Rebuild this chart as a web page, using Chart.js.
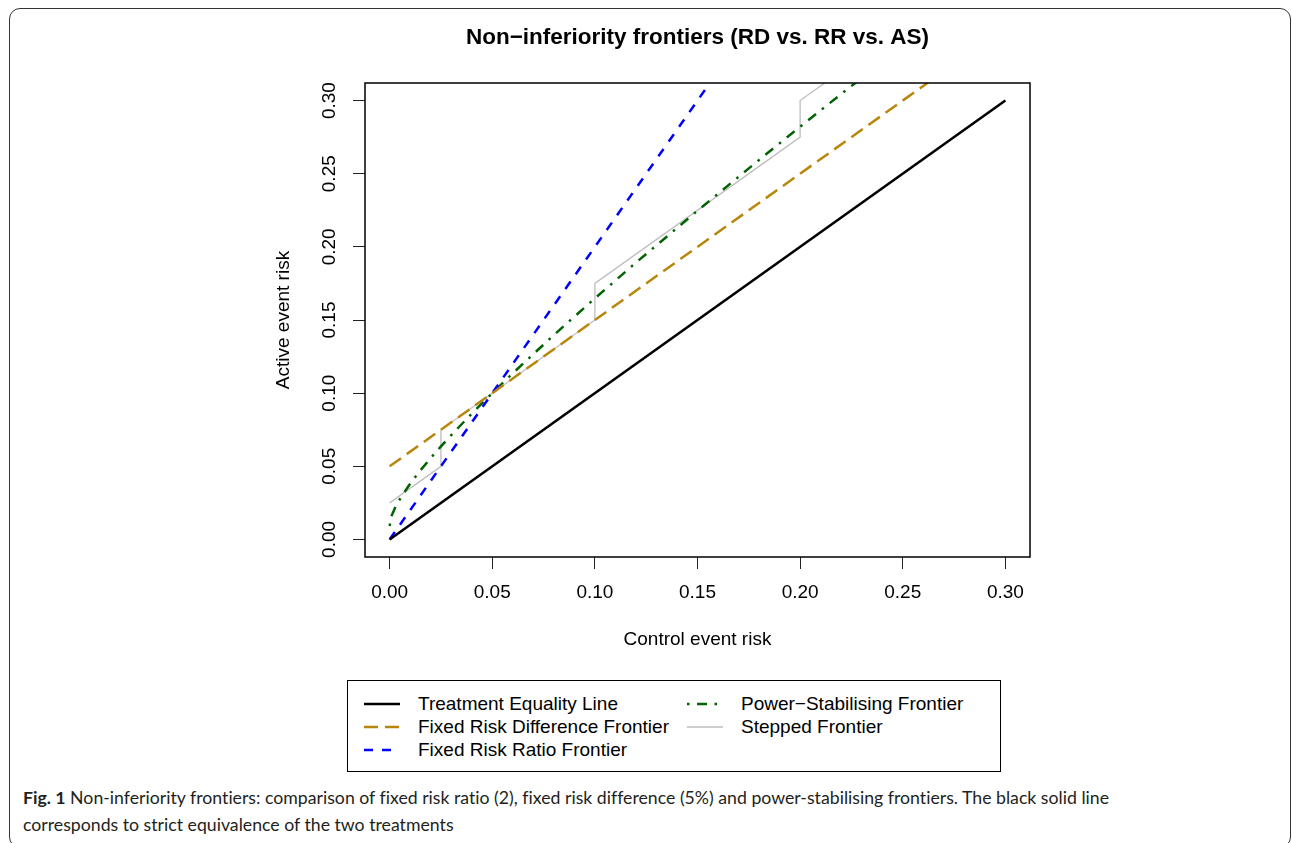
<!DOCTYPE html>
<html>
<head>
<meta charset="utf-8">
<script src="https://cdn.jsdelivr.net/npm/chart.js@4.4.1/dist/chart.umd.min.js"></script>
<style>
  html, body { margin: 0; padding: 0; background: #fff; }
  body { width: 1292px; height: 843px; position: relative; overflow: hidden; font-family: 'Liberation Sans', Arial, sans-serif; }
  #frame { position: absolute; left: 9px; top: 8px; width: 1282px; height: 840px; border: 1.5px solid #333; border-radius: 11px; box-sizing: border-box; }
  #chartWrap { position: absolute; left: 265px; top: 0; width: 865px; height: 670px; }
  #legend { position: absolute; left: 347px; top: 680px; width: 654px; height: 92px; border: 1.5px solid #000; box-sizing: border-box; }
  .item { position: absolute; height: 22px; line-height: 22px; font-size: 19px; color: #000; white-space: nowrap; }
  .item svg { position: absolute; top: 8px; }
  .item span { position: absolute; }
  #caption { position: absolute; left: 23px; top: 784px; width: 1260px; font-family: Lato, 'Open Sans', sans-serif; font-size: 17.7px; line-height: 27px; color: #231f20; white-space: nowrap; font-variant-ligatures: none; }
  #caption b { font-weight: 700; }
</style>
</head>
<body>
<div id="frame"></div>
<div id="chartWrap"><canvas id="c" width="865" height="670"></canvas></div>
<div id="legend"></div>
<div id="caption"><b>Fig. 1</b> Non-inferiority frontiers: comparison of fixed risk ratio (2), fixed risk difference (5%) and power-stabilising frontiers. The black solid line<br>corresponds to strict equivalence of the two treatments</div>
<script>
// ---- data ----
const tickValues = [0, 0.05, 0.10, 0.15, 0.20, 0.25, 0.30];
const tickLabels = ['0.00', '0.05', '0.10', '0.15', '0.20', '0.25', '0.30'];

const equalityX = [0, 0.30];
const equalityY = [0, 0.30];

const riskDiffX = [0, 0.30];
const riskDiffY = [0.05, 0.35];

const riskRatioX = [0, 0.30];
const riskRatioY = [0, 0.60];

const powerStabX = [0, 0.001, 0.0025, 0.005, 0.01, 0.015, 0.02, 0.025, 0.03, 0.04, 0.05, 0.06, 0.08, 0.10, 0.12, 0.15, 0.18, 0.20, 0.22, 0.24];
const powerStabY = [0.0092, 0.0163, 0.0212, 0.0276, 0.0381, 0.0472, 0.0556, 0.0636, 0.0713, 0.0860, 0.1000, 0.1136, 0.1397, 0.1648, 0.1892, 0.2247, 0.2594, 0.2821, 0.3045, 0.3263];

const steppedX = [0, 0.025, 0.025, 0.10, 0.10, 0.20, 0.20, 0.30];
const steppedY = [0.025, 0.05, 0.075, 0.15, 0.175, 0.275, 0.30, 0.40];

const seriesNames = ['Treatment Equality Line', 'Fixed Risk Difference Frontier', 'Fixed Risk Ratio Frontier', 'Power\u2212Stabilising Frontier', 'Stepped Frontier'];

// ---- styles ----
const styles = [
  { color: '#000000', width: 2.6, dash: [] },
  { color: '#B8860B', width: 2.5, dash: [14, 7] },
  { color: '#0000FF', width: 2.5, dash: [9, 9] },
  { color: '#006400', width: 2.5, dash: [2.5, 7.5, 10, 7.5] },
  { color: '#BEBEBE', width: 1.3, dash: [] }
];

const pts = (xs, ys) => xs.map((x, i) => ({ x: x, y: ys[i] }));
const seriesData = [
  pts(equalityX, equalityY),
  pts(riskDiffX, riskDiffY),
  pts(riskRatioX, riskRatioY),
  pts(powerStabX, powerStabY),
  pts(steppedX, steppedY)
];
const datasets = seriesData.map((d, i) => ({
  label: seriesNames[i],
  data: d,
  borderColor: styles[i].color,
  borderWidth: styles[i].width,
  borderDash: styles[i].dash,
  borderCapStyle: 'butt',
  pointRadius: 0,
  tension: 0,
  fill: false,
  clip: 0
}));

const boxPlugin = {
  id: 'box',
  afterDatasetsDraw(chart) {
    const a = chart.chartArea, ctx = chart.ctx;
    ctx.save();
    ctx.strokeStyle = '#000';
    ctx.lineWidth = 1.5;
    ctx.strokeRect(a.left, a.top, a.right - a.left, a.bottom - a.top);
    ctx.restore();
  }
};

const FONT = "'Liberation Sans', Arial, Helvetica, sans-serif";
Chart.defaults.font.family = FONT;
Chart.defaults.color = '#000';

const axisCommon = {
  type: 'linear',
  min: -0.012,
  max: 0.312,
  afterBuildTicks: (axis) => { axis.ticks = tickValues.map(v => ({ value: v })); },
  grid: { drawOnChartArea: false, drawTicks: true, tickLength: 12, color: '#222', lineWidth: 1 },
  border: { display: false }
};

new Chart(document.getElementById('c'), {
  type: 'line',
  data: { datasets: datasets },
  options: {
    responsive: false,
    animation: false,
    devicePixelRatio: 1,
    layout: { padding: 0 },
    plugins: {
      legend: { display: false },
      tooltip: { enabled: false },
      title: {
        display: true,
        text: 'Non\u2212inferiority frontiers (RD vs. RR vs. AS)',
        font: { family: FONT, size: 22.5, weight: 'bold', lineHeight: 1.2 },
        color: '#000',
        padding: { top: 24.5, bottom: 31.5 }
      }
    },
    scales: {
      x: Object.assign({}, axisCommon, {
        position: 'bottom',
        afterFit: (s) => { s.height = 113; },
        ticks: {
          autoSkip: false, maxRotation: 0, minRotation: 0, padding: 12.5,
          font: { size: 19 }, color: '#000',
          callback: (v, i) => tickLabels[i]
        },
        title: { display: true, text: 'Control event risk', font: { size: 19, lineHeight: 1.2 }, color: '#000', padding: { top: 0, bottom: 18.6 } }
      }),
      y: Object.assign({}, axisCommon, {
        position: 'left',
        afterFit: (s) => { s.width = 100; },
        ticks: {
          autoSkip: false, minRotation: 90, maxRotation: 90, padding: 4.5, crossAlign: 'center',
          font: { size: 19 }, color: '#000',
          callback: (v, i) => tickLabels[i]
        },
        title: { display: true, text: 'Active event risk', font: { size: 19, lineHeight: 1.2 }, color: '#000', padding: { top: 7.6, bottom: 0 } }
      }),
      yRightSpacer: {
        type: 'linear',
        position: 'right',
        display: true,
        afterFit: (s) => { s.width = 100; },
        ticks: { display: false },
        grid: { display: false },
        border: { display: false }
      }
    }
  },
  plugins: [boxPlugin]
});

// ---- legend (HTML) ----
const legendPos = [
  { col: 0, row: 0 }, { col: 0, row: 1 }, { col: 0, row: 2 },
  { col: 1, row: 0 }, { col: 1, row: 1 }
];
const colX = [16, 339];
const rowY = [12, 35, 58];
const legend = document.getElementById('legend');
seriesNames.forEach((name, i) => {
  const p = legendPos[i], st = styles[i];
  const div = document.createElement('div');
  div.className = 'item';
  div.style.left = colX[p.col] + 'px';
  div.style.top = rowY[p.row] + 'px';
  const dash = st.dash.length ? ` stroke-dasharray="${st.dash.join(' ')}"` : '';
  div.innerHTML = `<svg width="36" height="6" style="left:0"><line x1="0" y1="3" x2="36" y2="3" stroke="${st.color}" stroke-width="${st.width}"${dash}/></svg><span style="left:54px">${name}</span>`;
  legend.appendChild(div);
});
</script>
</body>
</html>
